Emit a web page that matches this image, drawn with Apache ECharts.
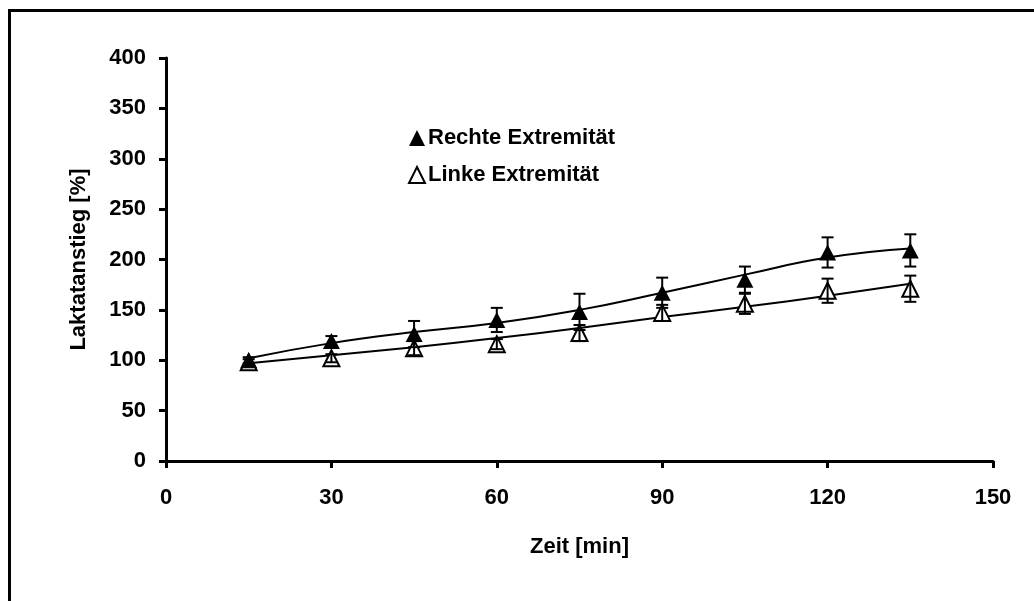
<!DOCTYPE html>
<html>
<head>
<meta charset="utf-8">
<script src="https://cdn.jsdelivr.net/npm/echarts@6/dist/echarts.min.js"></script>
<style>
html,body{margin:0;padding:0;background:#fff;}
#chart{width:1034px;height:601px;}
</style>
</head>
<body>
<div id="chart"></div>
<script>
const times = [15, 30, 45, 60, 75, 90, 105, 120, 135];
const rechte = [100, 119, 126, 140, 148, 167, 180, 207, 209];
const rechteErr = [3, 5, 13, 12, 18, 15, 13, 15, 16];
const linke = [98, 102, 112, 116, 127, 147, 156, 169, 171];
const linkeErr = [3, 4, 7, 5, 8, 8, 10, 12, 13];
const rechteTrend = [102, 117, 128, 137, 150, 167, 185, 202, 211];
const linkeTrend = [97, 105, 113, 122, 132, 143, 153, 164, 176];
const xTicks = [0, 30, 60, 90, 120, 150];
const yTicks = [0, 50, 100, 150, 200, 250, 300, 350, 400];

const FONT = '"Liberation Sans", Arial, sans-serif';
const FS = 22;
const pairs = (xs, ys) => xs.map((x, i) => [x, ys[i]]);
const errData = (xs, ys, es) => xs.map((x, i) => [x, ys[i] - es[i], ys[i] + es[i]]);

function errRender(params, api) {
  const x = api.value(0);
  const lo = api.coord([x, api.value(1)]);
  const hi = api.coord([x, api.value(2)]);
  const w = 6;
  const st = {stroke: '#000', lineWidth: 2, fill: null};
  return {
    type: 'group',
    children: [
      {type: 'line', shape: {x1: lo[0], y1: lo[1], x2: hi[0], y2: hi[1]}, style: st},
      {type: 'line', shape: {x1: lo[0] - w, y1: lo[1], x2: lo[0] + w, y2: lo[1]}, style: st},
      {type: 'line', shape: {x1: hi[0] - w, y1: hi[1], x2: hi[0] + w, y2: hi[1]}, style: st}
    ]
  };
}

const chart = echarts.init(document.getElementById('chart'), null, {renderer: 'canvas'});
chart.setOption({
  animation: false,
  backgroundColor: '#fff',
  graphic: [{
    type: 'rect', z: 100,
    shape: {x: 9.5, y: 10.5, width: 1100, height: 700},
    style: {fill: null, stroke: '#000', lineWidth: 3}
  }],
  grid: {left: 166, right: 41, top: 58, bottom: 140, containLabel: false},
  legend: {
    orient: 'vertical', left: 408, top: 127, itemGap: 15, padding: 0,
    itemWidth: 16, itemHeight: 16,
    textStyle: {fontFamily: FONT, fontWeight: 'bold', fontSize: FS, color: '#000', padding: [0, 0, 0, -2]},
    data: ['Rechte Extremität', 'Linke Extremität']
  },
  xAxis: {
    type: 'value', min: 0, max: 150, interval: 30,
    name: 'Zeit [min]', nameLocation: 'middle', nameGap: 75,
    nameTextStyle: {fontFamily: FONT, fontWeight: 'bold', fontSize: FS, color: '#000'},
    axisLine: {show: true, onZero: false, lineStyle: {color: '#000', width: 3}},
    axisTick: {show: true, length: 7, lineStyle: {color: '#000', width: 3}},
    axisLabel: {fontFamily: FONT, fontWeight: 'bold', fontSize: FS, color: '#000', margin: 26,
      formatter: v => xTicks.includes(v) ? String(v) : ''},
    splitLine: {show: false}
  },
  yAxis: {
    type: 'value', min: 0, max: 400, interval: 50,
    name: 'Laktatanstieg [%]', nameLocation: 'middle', nameGap: 76, nameRotate: 90,
    nameTextStyle: {fontFamily: FONT, fontWeight: 'bold', fontSize: FS, color: '#000'},
    axisLine: {show: true, onZero: false, lineStyle: {color: '#000', width: 3}},
    axisTick: {show: true, length: 7, lineStyle: {color: '#000', width: 3}},
    axisLabel: {fontFamily: FONT, fontWeight: 'bold', fontSize: FS, color: '#000', margin: 20,
      formatter: v => yTicks.includes(v) ? String(v) : ''},
    splitLine: {show: false}
  },
  series: [
    {
      name: 'trendR', type: 'line', smooth: true, symbol: 'none', z: 2,
      data: pairs(times, rechteTrend),
      lineStyle: {color: '#000', width: 2}
    },
    {
      name: 'trendL', type: 'line', smooth: true, symbol: 'none', z: 2,
      data: pairs(times, linkeTrend),
      lineStyle: {color: '#000', width: 2}
    },
    {
      name: 'Linke Extremität', type: 'scatter', symbol: 'triangle', symbolSize: [16, 16], z: 3,
      data: pairs(times, linke),
      itemStyle: {color: '#fff', borderColor: '#000', borderWidth: 2, opacity: 1}
    },
    {
      name: 'Rechte Extremität', type: 'scatter', symbol: 'triangle', symbolSize: [17, 16], z: 4,
      data: pairs(times, rechte),
      itemStyle: {color: '#000', borderColor: '#000', borderWidth: 0, opacity: 1}
    },
    {
      name: 'errL', type: 'custom', z: 5,
      data: errData(times, linke, linkeErr),
      renderItem: errRender
    },
    {
      name: 'errR', type: 'custom', z: 5,
      data: errData(times, rechte, rechteErr),
      renderItem: errRender
    }
  ]
});
</script>
</body>
</html>
